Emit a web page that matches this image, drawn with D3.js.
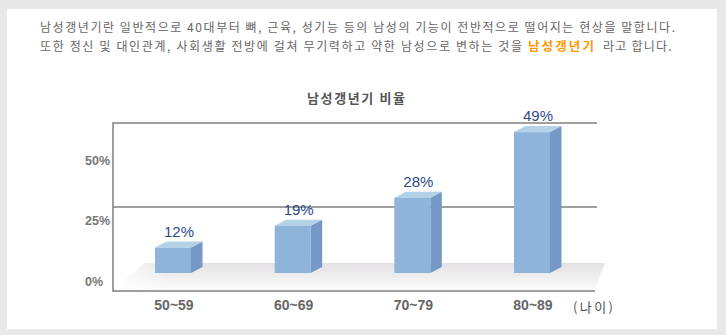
<!DOCTYPE html>
<html><head><meta charset="utf-8">
<script src="https://cdn.jsdelivr.net/npm/d3@7"></script>
<style>html,body{margin:0;padding:0;background:#fff;overflow:hidden}</style>
</head><body>
<script>
// ---- data ----
const categories = ["50~59", "60~69", "70~79", "80~89"];
const values = [12, 19, 28, 49];
const valueLabels = ["12%", "19%", "28%", "49%"];
const tickValues = [0, 25, 50];
const tickLabels = ["0%", "25%", "50%"];
const title = "남성갱년기 비율";
const unitLabel = "(나이)";
const introLine1 = "남성갱년기란 일반적으로 40대부터 뼈, 근육, 성기능 등의 남성의 기능이 전반적으로 떨어지는 현상을 말합니다.";
const introLine2a = "또한 정신 및 대인관계, 사회생활 전방에 걸쳐 무기력하고 약한 남성으로 변하는 것을";
const introLine2b = "남성갱년기";
const introLine2c = "라고 합니다.";

const W = 726, H = 335;
const svg = d3.select("body").append("svg").attr("width", W).attr("height", H);
const KR = "'Noto Sans CJK KR','Noto Sans',sans-serif";
const LAT = "'Liberation Sans',Arial,sans-serif";

// frame
svg.append("rect").attr("width", W).attr("height", H).attr("fill", "#e8e8e8");
svg.append("rect").attr("x", 7).attr("y", 9).attr("width", 710).attr("height", 320).attr("fill", "#fff");

// intro text
svg.append("text").attr("x", 40).attr("y", 32).attr("textLength", 635).attr("lengthAdjust", "spacing")
  .attr("font-family", KR).attr("font-size", 12).attr("fill", "#666").text(introLine1);
svg.append("text").attr("x", 40).attr("y", 50.5).attr("textLength", 482).attr("lengthAdjust", "spacing")
  .attr("font-family", KR).attr("font-size", 12).attr("fill", "#666").text(introLine2a);
svg.append("text").attr("x", 528).attr("y", 50.5).attr("textLength", 66).attr("lengthAdjust", "spacing")
  .attr("font-family", KR).attr("font-size", 12.5).attr("font-weight", "bold").attr("fill", "#ff9900").text(introLine2b);
svg.append("text").attr("x", 603).attr("y", 50.5).attr("textLength", 68.5).attr("lengthAdjust", "spacing")
  .attr("font-family", KR).attr("font-size", 12).attr("fill", "#666").text(introLine2c);

// scales
const x = d3.scalePoint().domain(categories).range([173, 532]);
const y = d3.scaleLinear().domain([0, 50]).range([285, 129]);
const yTick = d3.scaleLinear().domain([0, 50]).range([285.5, 164.5]);
const barW = 36, dx = 11.5, dy = -6, floorY = 273;

// floor
const defs = svg.append("defs");
const g1 = defs.append("linearGradient").attr("id", "floor").attr("x1", 0).attr("y1", 0).attr("x2", 0).attr("y2", 1);
g1.append("stop").attr("offset", "0%").attr("stop-color", "#e3e1e3");
g1.append("stop").attr("offset", "100%").attr("stop-color", "#fbfbfb");
const g2 = defs.append("linearGradient").attr("id", "floorL").attr("x1", 0).attr("y1", 0).attr("x2", 1).attr("y2", 0);
g2.append("stop").attr("offset", "0%").attr("stop-color", "#fff").attr("stop-opacity", 1);
g2.append("stop").attr("offset", "12%").attr("stop-color", "#fff").attr("stop-opacity", 0);
svg.append("polygon").attr("points", "145,263 605,263 595,290 113,290").attr("fill", "url(#floor)");
svg.append("polygon").attr("points", "145,263 605,263 595,290 113,290").attr("fill", "url(#floorL)");

// axes lines / grid
const axisColor = "#7f7f7f";
svg.append("line").attr("x1", 113).attr("x2", 597).attr("y1", 123).attr("y2", 123).attr("stroke", axisColor).attr("stroke-width", 1.5);
svg.append("line").attr("x1", 113).attr("x2", 597).attr("y1", y(25)).attr("y2", y(25)).attr("stroke", axisColor).attr("stroke-width", 1.5);
svg.append("line").attr("x1", 113).attr("x2", 595).attr("y1", 291).attr("y2", 291).attr("stroke", axisColor).attr("stroke-width", 1.5);
svg.append("line").attr("x1", 113).attr("x2", 113).attr("y1", 122.25).attr("y2", 291.75).attr("stroke", axisColor).attr("stroke-width", 1.5);

// y tick labels
svg.selectAll("text.ytick").data(tickValues).enter().append("text").attr("class", "ytick")
  .attr("x", 85).attr("y", d => yTick(d)).attr("font-family", LAT).attr("font-size", 12.5).attr("font-weight", "bold")
  .attr("fill", "#777").text((d, i) => tickLabels[i]);

// bars
const bars = svg.selectAll("g.bar").data(values).enter().append("g").attr("class", "bar");
bars.append("polygon").attr("fill", "#7698c6").attr("points", (d, i) => {
  const x1 = x(categories[i]) + barW / 2, t = y(d);
  return [[x1, floorY], [x1 + dx, floorY + dy], [x1 + dx, t + dy], [x1, t]].join(" ");
});
bars.append("polygon").attr("fill", "#b3d2e7").attr("points", (d, i) => {
  const x0 = x(categories[i]) - barW / 2, x1 = x0 + barW, t = y(d);
  return [[x0, t], [x1, t], [x1 + dx, t + dy], [x0 + dx, t + dy]].join(" ");
});
bars.append("rect").attr("fill", "#8fb4da")
  .attr("x", (d, i) => x(categories[i]) - barW / 2).attr("width", barW)
  .attr("y", d => y(d)).attr("height", d => floorY - y(d));

// value labels
svg.selectAll("text.val").data(values).enter().append("text").attr("class", "val")
  .attr("x", (d, i) => x(categories[i]) + 6).attr("y", d => y(d) + dy - 5)
  .attr("text-anchor", "middle").attr("font-family", LAT).attr("font-size", 15)
  .attr("fill", "#2e4a8c").text((d, i) => valueLabels[i]);

// category labels
svg.selectAll("text.cat").data(categories).enter().append("text").attr("class", "cat")
  .attr("x", d => x(d) + 1).attr("y", 310).attr("text-anchor", "middle")
  .attr("font-family", LAT).attr("font-size", 14).attr("font-weight", "bold").attr("fill", "#666").text(d => d);

// title and unit
svg.append("text").attr("x", 307).attr("y", 103).attr("textLength", 98).attr("lengthAdjust", "spacing")
  .attr("font-family", KR).attr("font-size", 13).attr("font-weight", "bold").attr("fill", "#555").text(title);
svg.append("text").attr("x", 573).attr("y", 312).attr("textLength", 40).attr("lengthAdjust", "spacing")
  .attr("font-family", KR).attr("font-size", 13).attr("fill", "#555").text(unitLabel);
</script>
</body></html>
